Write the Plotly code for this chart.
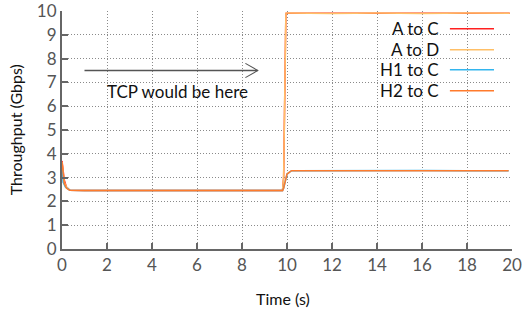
import plotly.graph_objects as go

# ---- data ----
t_ac = [0, 0.1, 0.2, 0.35, 1, 2, 4, 6, 8, 9.8, 9.85, 9.95, 10, 12, 14, 16, 18, 19.9]
v_ac = [3.7, 2.9, 2.6, 2.47, 2.46, 2.46, 2.46, 2.46, 2.46, 2.46, 3.0, 9.9, 9.91, 9.91, 9.91, 9.91, 9.91, 9.91]

t_ad = [0, 0.1, 0.2, 0.35, 1, 2, 4, 6, 8, 9.8, 9.85, 9.95, 10, 12, 14, 16, 18, 19.9]
v_ad = [3.65, 2.8, 2.6, 2.47, 2.46, 2.46, 2.46, 2.46, 2.46, 2.46, 3.0, 9.9, 9.92, 9.9, 9.92, 9.9, 9.92, 9.91]

t_h1 = [0, 0.05, 0.15, 0.35, 1, 2, 4, 6, 8, 9.8, 9.85, 10.0, 10.2, 12, 14, 16, 18, 19.85]
v_h1 = [3.6, 2.8, 2.6, 2.47, 2.46, 2.46, 2.46, 2.46, 2.46, 2.46, 2.55, 3.15, 3.29, 3.3, 3.29, 3.3, 3.29, 3.29]

t_h2 = [0, 0.1, 0.2, 0.35, 1, 2, 4, 6, 8, 9.8, 9.85, 10.0, 10.2, 12, 14, 16, 18, 19.85]
v_h2 = [3.65, 2.75, 2.55, 2.47, 2.46, 2.46, 2.46, 2.46, 2.46, 2.46, 2.55, 3.15, 3.29, 3.29, 3.29, 3.29, 3.29, 3.29]

names = ["A to C", "A to D", "H1 to C", "H2 to C"]
colors = ["#ff2020", "#ffbf66", "#33b5ee", "#ff7b2c"]

x_ticks = [0, 2, 4, 6, 8, 10, 12, 14, 16, 18, 20]
y_ticks = [0, 1, 2, 3, 4, 5, 6, 7, 8, 9, 10]

FONT = "Lato"
FS = 17
AXIS = "#666666"
TXT = "#555555"
DARK = "#111111"

fig = go.Figure()
series = [(t_ac, v_ac), (t_ad, v_ad), (t_h1, v_h1), (t_h2, v_h2)]
for (tx, vy), n, c in zip(series, names, colors):
    fig.add_trace(go.Scatter(x=tx, y=vy, mode="lines", name=n,
                             line=dict(color=c, width=1.5), showlegend=False))

# manual legend (text right, sample line on the right as in reference)
leg_y = [0.925, 0.837, 0.753, 0.665]
for n, c, yy in zip(names, colors, leg_y):
    fig.add_annotation(x=0.842, y=yy, xref="paper", yref="paper", text=n,
                       showarrow=False, xanchor="right", yanchor="middle",
                       font=dict(family=FONT, size=FS, color=DARK))
    fig.add_shape(type="line", xref="paper", yref="paper",
                  x0=0.862, x1=0.96, y0=yy, y1=yy,
                  line=dict(color=c, width=1.5))

# "TCP would be here" arrow
fig.add_shape(type="line", x0=1.0, x1=8.7, y0=7.5, y1=7.5,
              line=dict(color="#555555", width=1.3))
fig.add_shape(type="path", path="M 8.15,7.8 L 8.7,7.5 L 8.15,7.2",
              line=dict(color="#555555", width=1.1))
fig.add_annotation(x=5.15, y=6.6, text="TCP would be here", showarrow=False,
                   font=dict(family=FONT, size=FS, color=DARK))

# axis titles placed as annotations
fig.add_annotation(x=0.49, y=-0.21, xref="paper", yref="paper", text="Time (s)",
                   showarrow=False, yanchor="middle",
                   font=dict(family=FONT, size=FS - 1, color=DARK))
fig.add_annotation(x=-0.104, y=0.5, xref="paper", yref="paper", text="Throughput (Gbps)",
                   showarrow=False, textangle=-90, xanchor="center",
                   font=dict(family=FONT, size=FS - 1, color=DARK))

common = dict(showgrid=True, gridcolor="#8a8a8a", griddash="1px,2px", gridwidth=1,
              showline=True, linecolor=AXIS, linewidth=2, mirror=False,
              ticks="inside", ticklen=6, tickcolor=AXIS, tickwidth=2,
              zeroline=False, automargin=False, ticklabeloverflow="allow",
              tickfont=dict(family=FONT, size=FS, color=TXT))
fig.update_xaxes(range=[0, 20], tickvals=x_ticks, **common)
fig.update_yaxes(range=[0, 10], tickvals=y_ticks, **common)

fig.update_layout(width=522, height=313,
                  margin=dict(l=62, r=10, t=10.5, b=64.3),
                  paper_bgcolor="white", plot_bgcolor="white")

fig.write_html("out.html", config={"displayModeBar": False},
               post_script="document.body.style.margin='0';document.body.style.overflow='hidden';")
